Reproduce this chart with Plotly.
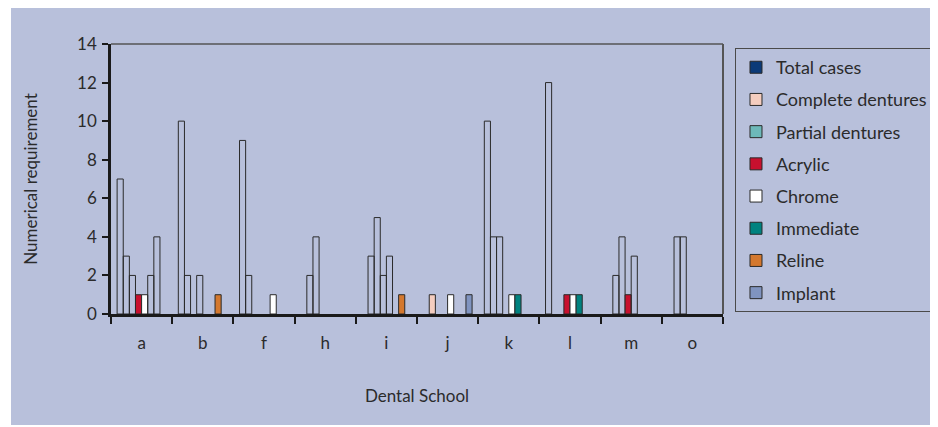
import plotly.graph_objects as go

# ---------------- data ----------------
schools = ["a", "b", "f", "h", "i", "j", "k", "l", "m", "o"]
series_names = ["Total cases", "Complete dentures", "Partial dentures", "Acrylic",
                "Chrome", "Immediate", "Reline", "Implant"]

total_cases       = [7, 10, 9, None, None, None, 10, 12, None, None]
complete_dentures = [3, 2, 2, 2, 3, 1, 4, None, 2, 4]
partial_dentures  = [2, None, None, 4, 5, None, 4, None, 4, 4]
acrylic           = [1, 2, None, None, 2, None, None, 1, 1, None]
chrome            = [1, None, None, None, 3, 1, 1, 1, 3, None]
immediate         = [2, None, 1, None, None, None, 1, 1, None, None]
reline            = [4, 1, None, None, 1, None, None, None, None, None]
implant           = [None, None, None, None, None, 1, None, None, None, None]

values = [total_cases, complete_dentures, partial_dentures, acrylic,
          chrome, immediate, reline, implant]

# ---------------- styles ----------------
series_colors = ["#0B3A78", "#F4CDBF", "#6DB9B9", "#C8102E",
                 "#FFFFFF", "#00827F", "#D4782E", "#8094C0"]
# points drawn in the series colour (all other points are drawn as outlines only)
colored_points = {
    "Complete dentures": ["j"],
    "Acrylic": ["a", "l", "m"],
    "Chrome": ["a", "j", "k", "l"],
    "Immediate": ["k", "l"],
    "Reline": ["b", "i"],
    "Implant": ["j"],
}
white_points = {"Immediate": ["f"]}

OUTER_BG = "#B8C0DB"
PLOT_BG = "#F3ECE2"
TEXT = "#2B2B2B"
FONT = "Lato"
EDGE = "#2A2A2A"

fig = go.Figure()
for i, (name, vals) in enumerate(zip(series_names, values)):
    col_list = colored_points.get(name, [])
    wht_list = white_points.get(name, [])
    main_y, alt_y, alt_c = [], [], []
    for s, v in zip(schools, vals):
        if v is not None and s in col_list:
            main_y.append(v); alt_y.append(None); alt_c.append("rgba(0,0,0,0)")
        elif v is not None:
            main_y.append(None); alt_y.append(v)
            alt_c.append("#FFFFFF" if s in wht_list else "rgba(0,0,0,0)")
        else:
            main_y.append(None); alt_y.append(None); alt_c.append("rgba(0,0,0,0)")
    fig.add_trace(go.Bar(
        x=schools, y=main_y, name=name, offsetgroup=str(i), legendgroup=name,
        marker=dict(color=series_colors[i], line=dict(color=EDGE, width=1)),
        hoverinfo="x+y+name",
    ))
    fig.add_trace(go.Bar(
        x=schools, y=alt_y, name=name, offsetgroup=str(i), legendgroup=name,
        showlegend=False,
        marker=dict(color=alt_c, line=dict(color=EDGE, width=1)),
        hoverinfo="x+y+name",
    ))

# the page body has an 8px margin, so the figure is sized to fit the window
fig.update_layout(
    width=930, height=419,
    margin=dict(l=103, r=215, t=36, b=113, autoexpand=False),
    paper_bgcolor="white",
    plot_bgcolor=PLOT_BG,
    barmode="group", bargap=0.2, bargroupgap=0,
    font=dict(family=FONT, size=16, color=TEXT),
    legend=dict(
        x=1.0196, y=0.985, xanchor="left", yanchor="top",
        bgcolor=OUTER_BG, bordercolor="#4A4A4A", borderwidth=1,
        font=dict(family=FONT, size=18, color=TEXT),
        traceorder="grouped", tracegroupgap=5.8, itemwidth=30,
    ),
    xaxis=dict(
        type="category", showgrid=False, zeroline=False, automargin=False,
        showline=True, linecolor="#1A1A1A", linewidth=2.5,
        ticks="outside", ticklen=7, tickwidth=2, tickcolor="#1A1A1A",
        tickson="boundaries", ticklabelstandoff=12,
        title=dict(text="Dental School", standoff=38, font=dict(size=17)),
        tickfont=dict(size=17),
    ),
    yaxis=dict(
        range=[0, 14], dtick=2, showgrid=False, zeroline=False, automargin=False,
        showline=True, linecolor="#1A1A1A", linewidth=2.5,
        ticks="outside", ticklen=6, tickwidth=2, tickcolor="#1A1A1A",
        title=dict(text="Numerical requirement", standoff=36, font=dict(size=17)),
        tickfont=dict(size=17), ticklabelstandoff=2,
    ),
    shapes=[
        dict(type="rect", xref="paper", yref="paper", layer="below",
             x0=(3 - 103) / 612, x1=(927 - 103) / 612,
             y0=(306 - 417) / 270, y1=(306 + 1) / 270,
             fillcolor=OUTER_BG, line=dict(width=0)),
        dict(type="line", xref="paper", yref="paper", x0=0, x1=1, y0=1, y1=1,
             line=dict(color="#555555", width=1.5)),
        dict(type="line", xref="paper", yref="paper", x0=1, x1=1, y0=0, y1=1,
             line=dict(color="#555555", width=2)),
    ],
)

fig.write_html("out.html")
